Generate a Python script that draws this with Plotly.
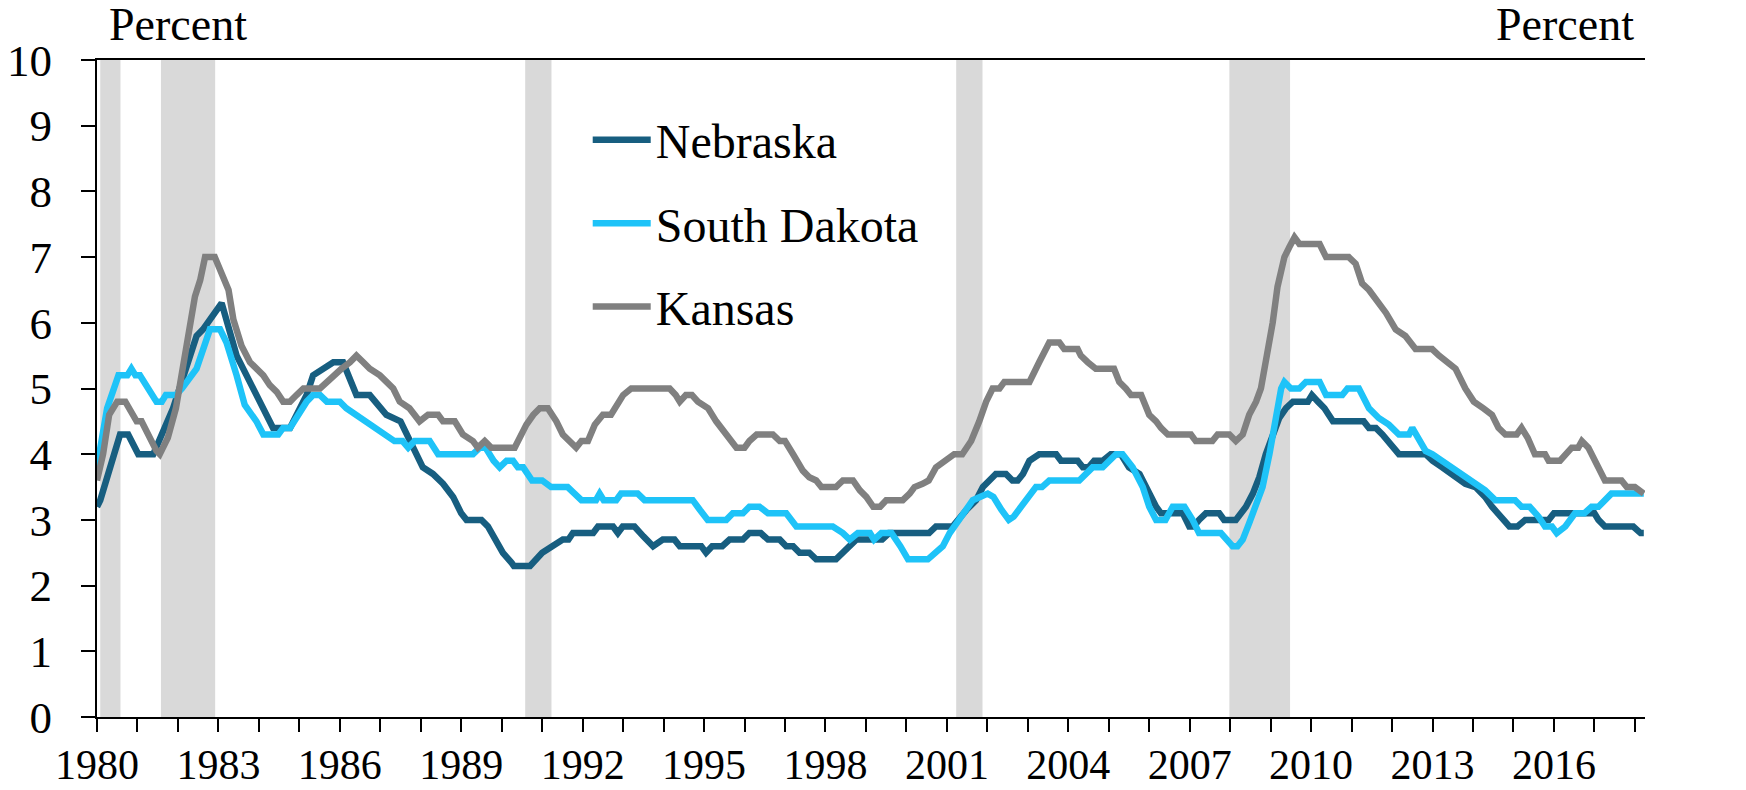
import plotly.graph_objects as go

# ---- data (x = decimal year) ----
ne_x = [1980.00, 1980.08, 1980.57, 1980.77, 1981.02, 1981.39, 1981.88, 1982.30, 1982.46, 1982.62,
        1983.08, 1983.45, 1983.69, 1983.94, 1984.11, 1984.35, 1984.77, 1984.93, 1985.18, 1985.34,
        1985.59, 1985.84, 1986.08, 1986.41, 1986.74, 1986.99, 1987.15, 1987.50, 1987.81, 1988.05,
        1988.30, 1988.55, 1988.80, 1989.00, 1989.13, 1989.50, 1989.66, 1989.85, 1990.03, 1990.24,
        1990.30, 1990.70, 1990.86, 1991.00, 1991.25, 1991.51, 1991.65, 1991.76, 1992.26, 1992.38,
        1992.75, 1992.87, 1992.99, 1993.28, 1993.50, 1993.74, 1993.98, 1994.27, 1994.40, 1994.93,
        1995.05, 1995.20, 1995.45, 1995.63, 1995.96, 1996.12, 1996.40, 1996.58, 1996.87, 1997.03,
        1997.20, 1997.36, 1997.60, 1997.77, 1998.26, 1998.43, 1998.60, 1998.76, 1999.40, 1999.57,
        2000.56, 2000.73, 2001.14, 2001.27, 2001.48, 2001.72, 2001.89, 2002.05, 2002.21, 2002.46,
        2002.62, 2002.75, 2002.88, 2003.04, 2003.28, 2003.70, 2003.82, 2004.23, 2004.36, 2004.50,
        2004.64, 2004.85, 2005.05, 2005.30, 2005.50, 2005.76, 2005.96, 2006.17, 2006.29, 2006.83,
        2006.99, 2007.10, 2007.23, 2007.40, 2007.73, 2007.85, 2008.14, 2008.27, 2008.39, 2008.56,
        2008.72, 2008.88, 2009.05, 2009.21, 2009.38, 2009.55, 2009.92, 2010.02, 2010.17, 2010.33,
        2010.54, 2011.30, 2011.43, 2011.60, 2011.76, 2011.95, 2012.17, 2012.83, 2013.00, 2013.24,
        2013.57, 2013.81, 2014.06, 2014.30, 2014.47, 2014.71, 2014.90, 2015.10, 2015.29, 2015.87,
        2016.00, 2017.00, 2017.10, 2017.26, 2017.96, 2018.14, 2018.22]
ne_y = [3.2, 3.3, 4.3, 4.3, 4.0, 4.0, 4.7, 5.5, 5.8, 5.9,
        6.3, 5.5, 5.2, 4.9, 4.7, 4.4, 4.4, 4.6, 4.9, 5.2,
        5.3, 5.4, 5.4, 4.9, 4.9, 4.7, 4.6, 4.5, 4.1, 3.8,
        3.7, 3.55, 3.35, 3.1, 3.0, 3.0, 2.9, 2.7, 2.5, 2.35,
        2.3, 2.3, 2.4, 2.5, 2.6, 2.7, 2.7, 2.8, 2.8, 2.9,
        2.9, 2.8, 2.9, 2.9, 2.75, 2.6, 2.7, 2.7, 2.6, 2.6,
        2.5, 2.6, 2.6, 2.7, 2.7, 2.8, 2.8, 2.7, 2.7, 2.6,
        2.6, 2.5, 2.5, 2.4, 2.4, 2.5, 2.6, 2.7, 2.7, 2.8,
        2.8, 2.9, 2.9, 3.0, 3.15, 3.3, 3.5, 3.6, 3.7, 3.7,
        3.6, 3.6, 3.7, 3.9, 4.0, 4.0, 3.9, 3.9, 3.8, 3.8,
        3.9, 3.9, 4.0, 4.0, 3.8, 3.7, 3.45, 3.2, 3.1, 3.1,
        2.9, 2.9, 3.0, 3.1, 3.1, 3.0, 3.0, 3.1, 3.2, 3.4,
        3.65, 4.0, 4.3, 4.55, 4.7, 4.8, 4.8, 4.9, 4.8, 4.7,
        4.5, 4.5, 4.4, 4.4, 4.3, 4.15, 4.0, 4.0, 3.9, 3.8,
        3.65, 3.55, 3.5, 3.35, 3.2, 3.05, 2.9, 2.9, 3.0, 3.0,
        3.1, 3.1, 3.0, 2.9, 2.9, 2.8, 2.8]

sd_x = [1980.00, 1980.25, 1980.53, 1980.75, 1980.85, 1980.95, 1981.06, 1981.47, 1981.60, 1981.70,
        1981.95, 1982.10, 1982.46, 1982.62, 1982.79, 1983.04, 1983.20, 1983.45, 1983.65, 1983.94,
        1984.11, 1984.48, 1984.60, 1984.77, 1984.93, 1985.18, 1985.34, 1985.51, 1985.68, 1986.00,
        1986.16, 1986.41, 1986.66, 1986.90, 1987.16, 1987.35, 1987.55, 1987.69, 1987.85, 1988.22,
        1988.43, 1989.29, 1989.46, 1989.60, 1989.80, 1989.95, 1990.12, 1990.28, 1990.40, 1990.53,
        1990.75, 1991.00, 1991.22, 1991.63, 1991.80, 1991.97, 1992.33, 1992.42, 1992.52, 1992.83,
        1992.95, 1993.36, 1993.53, 1994.72, 1994.90, 1995.09, 1995.55, 1995.71, 1995.96, 1996.12,
        1996.37, 1996.58, 1997.03, 1997.28, 1998.18, 1998.43, 1998.60, 1998.80, 1999.10, 1999.20,
        1999.38, 1999.63, 1999.85, 2000.04, 2000.53, 2000.74, 2000.90, 2001.07, 2001.40, 2001.64,
        2002.01, 2002.15, 2002.35, 2002.53, 2002.65, 2002.88, 2003.04, 2003.20, 2003.35, 2003.53,
        2004.27, 2004.44, 2004.60, 2004.85, 2005.01, 2005.18, 2005.34, 2005.59, 2005.84, 2006.00,
        2006.17, 2006.40, 2006.58, 2006.87, 2007.07, 2007.23, 2007.77, 2007.94, 2008.06, 2008.18,
        2008.31, 2008.47, 2008.63, 2008.80, 2008.97, 2009.13, 2009.26, 2009.34, 2009.50, 2009.71,
        2009.87, 2010.21, 2010.37, 2010.77, 2010.90, 2011.18, 2011.43, 2011.67, 2011.92, 2012.17,
        2012.42, 2012.50, 2012.60, 2012.83, 2013.00, 2013.24, 2013.45, 2013.65, 2013.90, 2014.14,
        2014.30, 2014.55, 2015.04, 2015.20, 2015.40, 2015.62, 2015.78, 2015.95, 2016.07, 2016.28,
        2016.52, 2016.75, 2016.93, 2017.10, 2017.26, 2017.42, 2018.22]
sd_y = [3.8, 4.7, 5.2, 5.2, 5.3, 5.2, 5.2, 4.8, 4.8, 4.9,
        4.9, 5.0, 5.3, 5.6, 5.9, 5.9, 5.7, 5.2, 4.75, 4.5,
        4.3, 4.3, 4.4, 4.4, 4.55, 4.8, 4.9, 4.9, 4.8, 4.8,
        4.7, 4.6, 4.5, 4.4, 4.3, 4.2, 4.2, 4.1, 4.2, 4.2,
        4.0, 4.0, 4.1, 4.1, 3.9, 3.8, 3.9, 3.9, 3.8, 3.8,
        3.6, 3.6, 3.5, 3.5, 3.4, 3.3, 3.3, 3.4, 3.3, 3.3,
        3.4, 3.4, 3.3, 3.3, 3.15, 3.0, 3.0, 3.1, 3.1, 3.2,
        3.2, 3.1, 3.1, 2.9, 2.9, 2.8, 2.7, 2.8, 2.8, 2.7,
        2.8, 2.8, 2.6, 2.4, 2.4, 2.5, 2.6, 2.8, 3.1, 3.3,
        3.4, 3.35, 3.15, 3.0, 3.05, 3.25, 3.35, 3.5, 3.5, 3.6,
        3.6, 3.7, 3.8, 3.8, 3.9, 4.0, 4.0, 3.8, 3.5, 3.2,
        3.0, 3.0, 3.2, 3.2, 3.0, 2.8, 2.8, 2.7, 2.6, 2.6,
        2.7, 2.95, 3.2, 3.5, 4.0, 4.6, 5.0, 5.1, 5.0, 5.0,
        5.1, 5.1, 4.9, 4.9, 5.0, 5.0, 4.7, 4.55, 4.45, 4.3,
        4.3, 4.4, 4.3, 4.05, 4.0, 3.9, 3.8, 3.7, 3.6, 3.5,
        3.45, 3.3, 3.3, 3.2, 3.2, 3.05, 2.9, 2.9, 2.8, 2.9,
        3.1, 3.1, 3.2, 3.2, 3.3, 3.4, 3.4]

ks_x = [1980.00, 1980.15, 1980.30, 1980.50, 1980.70, 1980.98, 1981.10, 1981.30, 1981.47, 1981.55,
        1981.75, 1981.95, 1982.10, 1982.30, 1982.42, 1982.55, 1982.67, 1982.91, 1983.08, 1983.25,
        1983.37, 1983.57, 1983.78, 1983.94, 1984.11, 1984.27, 1984.44, 1984.60, 1984.77, 1984.93,
        1985.10, 1985.51, 1985.68, 1985.84, 1986.04, 1986.25, 1986.41, 1986.58, 1986.74, 1986.99,
        1987.15, 1987.32, 1987.48, 1987.72, 1987.97, 1988.18, 1988.43, 1988.55, 1988.84, 1989.04,
        1989.29, 1989.41, 1989.58, 1989.74, 1990.32, 1990.61, 1990.78, 1990.94, 1991.14, 1991.35,
        1991.51, 1991.68, 1991.84, 1991.97, 1992.13, 1992.30, 1992.50, 1992.70, 1992.86, 1993.00,
        1993.20, 1994.15, 1994.30, 1994.40, 1994.55, 1994.70, 1994.85, 1995.10, 1995.30, 1995.55,
        1995.80, 1996.00, 1996.12, 1996.30, 1996.70, 1996.87, 1997.00, 1997.20, 1997.44, 1997.60,
        1997.77, 1997.90, 1998.26, 1998.43, 1998.68, 1998.85, 1999.01, 1999.18, 1999.35, 1999.50,
        1999.91, 2000.08, 2000.20, 2000.40, 2000.55, 2000.73, 2000.98, 2001.18, 2001.38, 2001.50,
        2001.60, 2001.80, 2001.97, 2002.13, 2002.30, 2002.42, 2003.04, 2003.28, 2003.53, 2003.78,
        2003.90, 2004.23, 2004.31, 2004.48, 2004.68, 2005.13, 2005.26, 2005.42, 2005.55, 2005.80,
        2006.00, 2006.17, 2006.29, 2006.46, 2007.03, 2007.15, 2007.56, 2007.69, 2007.98, 2008.14,
        2008.31, 2008.47, 2008.64, 2008.76, 2008.88, 2009.05, 2009.17, 2009.34, 2009.46, 2009.59,
        2009.71, 2010.21, 2010.37, 2010.93, 2011.10, 2011.26, 2011.43, 2011.67, 2011.85, 2012.09,
        2012.33, 2012.58, 2012.99, 2013.16, 2013.35, 2013.57, 2013.81, 2014.02, 2014.25, 2014.47,
        2014.63, 2014.80, 2015.08, 2015.20, 2015.35, 2015.53, 2015.78, 2015.87, 2016.15, 2016.28,
        2016.44, 2016.60, 2016.69, 2016.85, 2017.00, 2017.26, 2017.67, 2017.80, 2018.00, 2018.18,
        2018.22]
ks_y = [3.6, 4.0, 4.6, 4.8, 4.8, 4.5, 4.5, 4.25, 4.05, 4.0,
        4.25, 4.7, 5.2, 5.9, 6.4, 6.65, 7.0, 7.0, 6.75, 6.5,
        6.05, 5.65, 5.4, 5.3, 5.2, 5.05, 4.95, 4.8, 4.8, 4.9,
        5.0, 5.0, 5.1, 5.2, 5.3, 5.4, 5.5, 5.4, 5.3, 5.2,
        5.1, 5.0, 4.8, 4.7, 4.5, 4.6, 4.6, 4.5, 4.5, 4.3,
        4.2, 4.1, 4.2, 4.1, 4.1, 4.45, 4.6, 4.7, 4.7, 4.5,
        4.3, 4.2, 4.1, 4.2, 4.2, 4.45, 4.6, 4.6, 4.75, 4.9,
        5.0, 5.0, 4.9, 4.8, 4.9, 4.9, 4.8, 4.7, 4.5, 4.3,
        4.1, 4.1, 4.2, 4.3, 4.3, 4.2, 4.2, 4.0, 3.75, 3.65,
        3.6, 3.5, 3.5, 3.6, 3.6, 3.45, 3.35, 3.2, 3.2, 3.3,
        3.3, 3.4, 3.5, 3.55, 3.6, 3.8, 3.9, 4.0, 4.0, 4.1,
        4.2, 4.5, 4.8, 5.0, 5.0, 5.1, 5.1, 5.4, 5.7, 5.7,
        5.6, 5.6, 5.5, 5.4, 5.3, 5.3, 5.1, 5.0, 4.9, 4.9,
        4.6, 4.5, 4.4, 4.3, 4.3, 4.2, 4.2, 4.3, 4.3, 4.2,
        4.3, 4.6, 4.8, 5.0, 5.4, 6.0, 6.55, 7.0, 7.15, 7.3,
        7.2, 7.2, 7.0, 7.0, 6.9, 6.6, 6.5, 6.3, 6.15, 5.9,
        5.8, 5.6, 5.6, 5.5, 5.4, 5.3, 5.0, 4.8, 4.7, 4.6,
        4.4, 4.3, 4.3, 4.4, 4.25, 4.0, 4.0, 3.9, 3.9, 4.0,
        4.1, 4.1, 4.2, 4.1, 3.9, 3.6, 3.6, 3.5, 3.5, 3.4,
        3.4]

recession_start = [1980.08, 1981.58, 1990.58, 2001.23, 2007.98]
recession_end = [1980.58, 1982.92, 1991.23, 2001.88, 2009.48]

tick_years = list(range(1980, 2019))
tick_labels = [str(y) if (y - 1980) % 3 == 0 else "" for y in tick_years]
y_ticks = list(range(0, 11))

series_names = ["Nebraska", "South Dakota", "Kansas"]
series_colors = ["#175E80", "#1EC3F8", "#808080"]

FONT = "Liberation Serif"
FS = 42

fig = go.Figure()
for name, xs, ys, col in zip(series_names, [ne_x, sd_x, ks_x], [ne_y, sd_y, ks_y], series_colors):
    fig.add_trace(go.Scatter(x=xs, y=ys, mode="lines", name=name, legendgroup=name,
                             line=dict(color=col, width=6.5)))

for s, e in zip(recession_start, recession_end):
    fig.add_shape(type="rect", xref="x", yref="y", x0=s, x1=e, y0=0, y1=10,
                  fillcolor="#D9D9D9", line=dict(width=0), layer="below")

axis_common = dict(showgrid=False, zeroline=False, showline=True, linecolor="black", linewidth=2,
                   ticks="outside", tickcolor="black", tickwidth=2, automargin=False)

fig.update_layout(
    width=1746, height=790,
    margin=dict(l=97, r=101, t=60, b=73, autoexpand=False),
    paper_bgcolor="white", plot_bgcolor="white",
    font=dict(family=FONT, size=FS, color="black"),
    xaxis=dict(range=[1980, 2018.25], tickmode="array", tickvals=tick_years, ticktext=tick_labels,
               ticklen=13, mirror=True, ticklabelstandoff=-3,
               tickfont=dict(family=FONT, size=FS, color="black"), **axis_common),
    yaxis=dict(range=[0, 10], tickmode="array", tickvals=y_ticks, ticklen=14,
               ticklabelstandoff=20, tickfont=dict(family=FONT, size=45, color="black"),
               **axis_common),
    yaxis2=dict(range=[0, 10], overlaying="y", side="right", tickmode="array", tickvals=y_ticks,
                ticklen=14, ticklabelstandoff=44, tickfont=dict(family=FONT, size=45, color="black"),
                **axis_common),
    legend=dict(x=0.317, y=0.936, xanchor="left", yanchor="top", bgcolor="rgba(0,0,0,0)",
                font=dict(family=FONT, size=48, color="black"), traceorder="grouped",
                tracegroupgap=18, itemwidth=58),
    showlegend=True,
)

fig.add_annotation(text="Percent", xref="paper", yref="paper", x=(107 - 97) / 1548, y=1.0,
                   yshift=8, xanchor="left", yanchor="bottom", showarrow=False,
                   font=dict(family=FONT, size=46, color="black"))
fig.add_annotation(text="Percent", xref="paper", yref="paper", x=(1636 - 97) / 1548, y=1.0,
                   yshift=8, xanchor="right", yanchor="bottom", showarrow=False,
                   font=dict(family=FONT, size=46, color="black"))

fig.write_html("out.html", config={"displayModeBar": False},
               post_script="document.body.style.margin='0px';document.body.style.overflow='hidden';")
